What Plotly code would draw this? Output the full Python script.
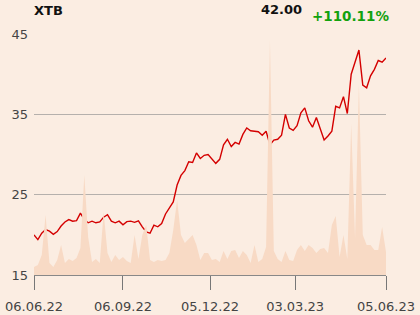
import pandas as pd
import plotly.graph_objects as go

# Dates every 4 days from 06.06.22 to 05.06.23 (92 points)
dates = pd.date_range("2022-06-06", "2023-06-05", periods=92)

price = [
    20.0, 19.4, 20.2, 20.65, 20.45, 20.06, 20.4, 21.1, 21.6, 21.9,
    21.7, 21.76, 22.7, 21.9, 21.5, 21.7, 21.5, 21.6, 22.2, 22.5,
    21.7, 21.5, 21.7, 21.25, 21.64, 21.7, 21.55, 21.75, 21.0, 20.35,
    20.2, 21.2, 21.0, 21.4, 22.6, 23.4, 24.1, 26.2, 27.4, 28.0,
    29.1, 29.0, 30.2, 29.5, 29.9, 30.0, 29.4, 28.9, 29.4, 31.2,
    31.9, 31.0, 31.5, 31.3, 32.5, 33.3, 32.95, 32.85, 32.84, 32.4,
    32.9, 31.2, 31.8, 31.9, 32.4, 35.0, 33.3, 33.0, 33.6, 35.2,
    35.8, 34.2, 33.4, 34.6, 33.3, 31.8, 32.3, 32.9, 36.0, 35.8,
    37.2, 35.1, 40.0, 41.6, 43.0, 38.65, 38.3, 39.8, 40.6, 41.7,
    41.5, 42.0,
]

# Volume (thousand shares)
volume = [
    80, 100, 200, 600, 120, 80, 150, 300, 120, 160,
    140, 170, 270, 1000, 380, 130, 160, 120, 630, 220,
    130, 200, 150, 180, 140, 120, 400, 160, 400, 500,
    150, 130, 150, 140, 150, 220, 450, 750, 400, 320,
    360, 400, 300, 150, 220, 220, 150, 160, 130, 240,
    160, 240, 250, 170, 240, 200, 120, 300, 130, 160,
    280, 2350, 240, 160, 130, 240, 150, 140, 250, 300,
    240, 300, 270, 220, 260, 270, 220, 500, 590, 180,
    400, 160, 1510, 370, 1900, 400, 300, 300, 250, 250,
    480, 230,
]

tick_vals = ["2022-06-06", "2022-09-06", "2022-12-05", "2023-03-03", "2023-06-05"]
tick_text = ["06.06.22", "06.09.22", "05.12.22", "03.03.23", "05.06.23"]
y_ticks = [15, 25, 35, 45]

title = "XTB"
last_price = "42.00"
change = "+110.11%"

BG = "#FBEDE2"
FONT = "DejaVu Sans"

fig = go.Figure()
fig.add_trace(go.Scatter(
    x=dates, y=volume, yaxis="y2", mode="lines",
    line=dict(width=0, color="#F7D9C3"), fill="tozeroy",
    fillcolor="#F8DAC5", hoverinfo="skip", showlegend=False,
))
fig.add_trace(go.Scatter(
    x=dates, y=price, mode="lines",
    line=dict(color="#D40000", width=1.4), showlegend=False,
))

fig.update_layout(
    width=420, height=315,
    margin=dict(l=34, r=34, t=34, b=40),
    paper_bgcolor=BG, plot_bgcolor=BG,
    font=dict(family=FONT, size=13, color="#444444"),
    xaxis=dict(
        range=["2022-06-06", "2023-06-05"], automargin=False,
        tickvals=tick_vals, ticktext=tick_text,
        ticks="outside", ticklen=14, tickcolor="#777777", tickwidth=1,
        showgrid=False, showline=True, linecolor="#888888", linewidth=1,
        zeroline=False, tickfont=dict(size=13, color="#444444"),
        ticklabelstandoff=5,
    ),
    yaxis=dict(
        range=[15, 45], tickvals=y_ticks, side="left", automargin=False,
        showgrid=True, gridcolor="#B5B0AC", gridwidth=1,
        zeroline=False, showline=False, ticks="",
        ticklabelstandoff=5, tickfont=dict(size=13, color="#444444"),
    ),
    yaxis2=dict(
        range=[0, 2410], overlaying="y", showgrid=False, automargin=False,
        showticklabels=False, zeroline=False, visible=False,
    ),
)

fig.add_annotation(text=f"<b>{title}</b>", xref="paper", yref="paper",
                   x=0, y=1, xanchor="left", yanchor="middle",
                   xshift=-2, yshift=24, showarrow=False,
                   font=dict(family=FONT, size=13, color="#111111"))
fig.add_annotation(text=f"<b>{last_price}</b>", xref="paper", yref="paper",
                   x=1, y=1, xanchor="right", yanchor="middle",
                   xshift=-82, yshift=25, showarrow=False,
                   font=dict(family=FONT, size=13, color="#111111"))
fig.add_annotation(text=f"<b>{change}</b>", xref="paper", yref="paper",
                   x=1, y=1, xanchor="right", yanchor="middle",
                   xshift=5, yshift=18, showarrow=False,
                   font=dict(family=FONT, size=13.5, color="#13A10E"))

fig.write_html("out.html")
